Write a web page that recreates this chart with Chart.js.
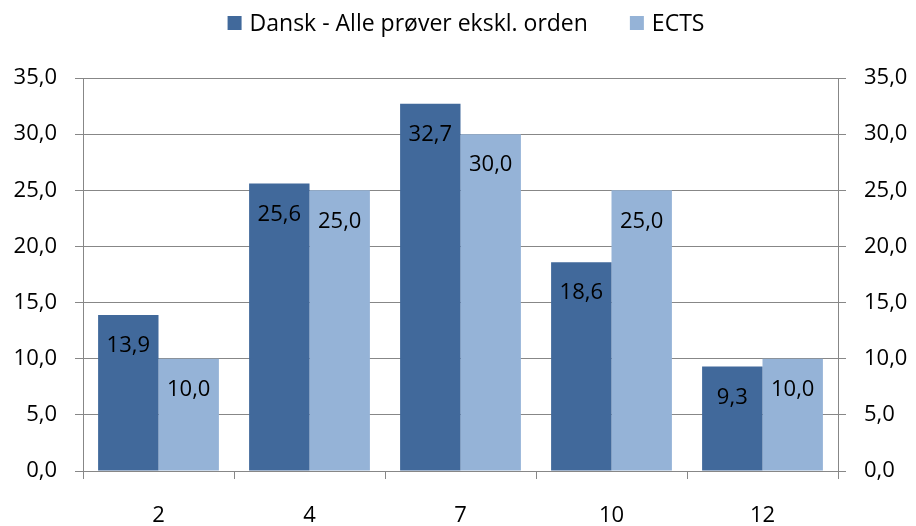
<!DOCTYPE html>
<html>
<head>
<meta charset="utf-8">
<script src="https://cdn.jsdelivr.net/npm/chart.js@4/dist/chart.umd.min.js"></script>
<style>
html,body{margin:0;padding:0;background:#fff;}
#wrap{width:916px;height:526px;}
</style>
</head>
<body>
<div id="wrap"><canvas id="c" width="916" height="526"></canvas></div>
<script>
const categories = ['2', '4', '7', '10', '12'];
const danskValues = [13.9, 25.6, 32.7, 18.6, 9.3];
const ectsValues = [10.0, 25.0, 30.0, 25.0, 10.0];
const seriesNames = ['Dansk - Alle prøver ekskl. orden', 'ECTS'];
const yTicks = [0, 5, 10, 15, 20, 25, 30, 35];

const FONT = '"Open Sans", "Noto Sans", sans-serif';
const FSIZE = 22;
const LEGEND_FSIZE = 23;
const DARK = '#41699B';
const LIGHT = '#95B3D7';
const GRID = '#878787';

const fmt = v => Number(v).toFixed(1).replace('.', ',');

const labelPlugin = {
  id: 'barLabels',
  afterDatasetsDraw(chart) {
    const ctx = chart.ctx;
    ctx.save();
    ctx.font = FSIZE + 'px ' + FONT;
    ctx.fillStyle = '#000';
    ctx.textAlign = 'center';
    ctx.textBaseline = 'middle';
    chart.data.datasets.forEach((ds, i) => {
      chart.getDatasetMeta(i).data.forEach((bar, j) => {
        ctx.fillText(fmt(ds.data[j]), bar.x, bar.y + 31);
      });
    });
    ctx.restore();
  }
};

const legendPlugin = {
  id: 'customLegend',
  afterDraw(chart) {
    const ctx = chart.ctx;
    ctx.save();
    ctx.font = LEGEND_FSIZE + 'px ' + FONT;
    ctx.textBaseline = 'middle';
    const box = 14, gap = 8, itemGap = 42, cy = 23;
    const items = chart.data.datasets.map(ds => ({label: ds.label, color: ds.backgroundColor, w: box + gap + ctx.measureText(ds.label).width}));
    const total = items.reduce((a, it) => a + it.w, 0) + itemGap * (items.length - 1);
    let x = 466 - total / 2;
    items.forEach(it => {
      ctx.fillStyle = it.color;
      ctx.fillRect(x, cy - box / 2, box, box);
      ctx.fillStyle = '#000';
      ctx.textAlign = 'left';
      ctx.fillText(it.label, x + box + gap, cy + 1);
      x += it.w + itemGap;
    });
    ctx.restore();
  }
};

new Chart(document.getElementById('c'), {
  type: 'bar',
  data: {
    labels: categories,
    datasets: [
      {label: seriesNames[0], data: danskValues, backgroundColor: DARK, yAxisID: 'y'},
      {label: seriesNames[1], data: ectsValues, backgroundColor: LIGHT, yAxisID: 'y'}
    ]
  },
  options: {
    responsive: false,
    animation: false,
    devicePixelRatio: 1,
    layout: {padding: {top: 78, left: 0, right: 0, bottom: 0}},
    datasets: {bar: {categoryPercentage: 0.8, barPercentage: 1.0}},
    plugins: {legend: {display: false}, tooltip: {enabled: false}},
    scales: {
      x: {
        offset: true,
        grid: {offset: true, drawOnChartArea: false, color: GRID, tickLength: 8, lineWidth: 1},
        border: {display: true, color: GRID, width: 1},
        ticks: {font: {family: FONT, size: FSIZE}, color: '#000', padding: 24, maxRotation: 0},
        afterFit(s) { s.height = 55; }
      },
      y: {
        position: 'left',
        min: 0, max: 35,
        afterBuildTicks(s) { s.ticks = yTicks.map(v => ({value: v})); },
        grid: {color: GRID, tickLength: 8, lineWidth: 1},
        border: {display: true, color: GRID, width: 1},
        ticks: {font: {family: FONT, size: FSIZE}, color: '#000', padding: 18, callback: v => fmt(v)},
        afterFit(s) { s.width = 83; }
      },
      y2: {
        position: 'right',
        min: 0, max: 35,
        afterBuildTicks(s) { s.ticks = yTicks.map(v => ({value: v})); },
        grid: {drawOnChartArea: false, color: GRID, tickLength: 8, lineWidth: 1},
        border: {display: true, color: GRID, width: 1},
        ticks: {font: {family: FONT, size: FSIZE}, color: '#000', padding: 18, callback: v => fmt(v)},
        afterFit(s) { s.width = 78; }
      }
    }
  },
  plugins: [labelPlugin, legendPlugin]
});
</script>
</body>
</html>
